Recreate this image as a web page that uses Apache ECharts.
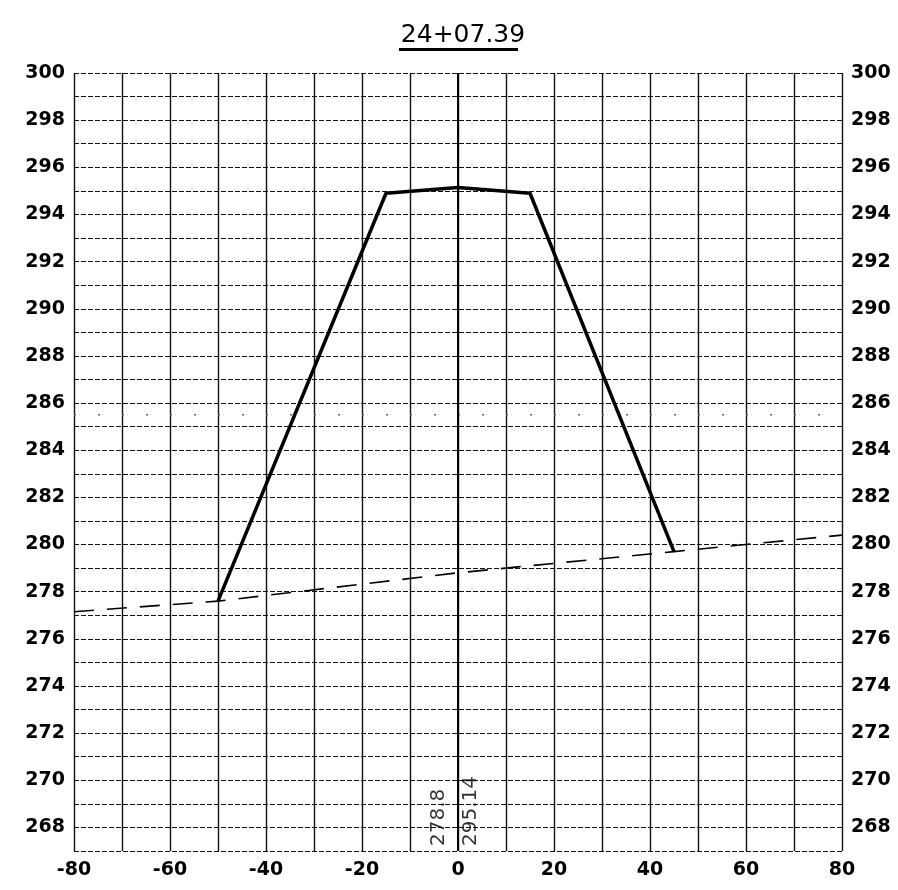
<!DOCTYPE html>
<html>
<head>
<meta charset="utf-8">
<script src="https://cdn.jsdelivr.net/npm/echarts@6/dist/echarts.min.js"></script>
<style>
html,body{margin:0;padding:0;background:#fff;}
#chart{width:898px;height:890px;}
</style>
</head>
<body>
<div id="chart"></div>
<script>
const titleText = '24+07.39';
const xMin = -80, xMax = 80;
const yMin = 267, yMax = 300;
// design cross-section (bold line)
const designX = [-50, -15, 0, 15, 45];
const designY = [277.6, 294.9, 295.14, 294.9, 279.7];
// existing ground (dashed line)
const groundX = [-80, -50, 0, 45, 80];
const groundY = [277.15, 277.6, 278.8, 279.7, 280.4];
// faint dotted level
const levelX = [-80, 80];
const levelY = [285.5, 285.5];
// centreline annotations
const centerLabels = ['278.8', '295.14'];
const centerX = [0, 0];

const pairs = (xs, ys) => xs.map((x, i) => [x, ys[i]]);

const chart = echarts.init(document.getElementById('chart'));
const labelFont = { fontFamily: 'DejaVu Sans', fontSize: 19, fontWeight: 'bold', color: '#000' };

const yAxisBase = {
  type: 'value', min: yMin, max: yMax, interval: 1,
  axisLine: { show: false }, axisTick: { show: false },
  axisLabel: Object.assign({ margin: 9, interval: 0,
    formatter: v => (v % 2 === 0 ? String(v) : '') }, labelFont)
};

chart.setOption({
  animation: false,
  backgroundColor: '#fff',
  title: {
    text: titleText, left: 458, top: 18, textAlign: 'center',
    textStyle: { fontFamily: 'DejaVu Sans', fontSize: 25, fontWeight: 'normal', color: '#000' }
  },
  graphic: [{ type: 'rect', left: 399, top: 48, shape: { width: 119, height: 3 }, style: { fill: '#000' } }],
  grid: { left: 74, right: 56, top: 73, bottom: 39 },
  xAxis: {
    type: 'value', min: xMin, max: xMax, interval: 10,
    axisLine: { show: false }, axisTick: { show: false },
    axisLabel: Object.assign({ margin: 10, formatter: v => (v % 20 === 0 ? String(v) : '') }, labelFont),
    splitLine: { show: true, lineStyle: { color: '#111', width: 1.4, type: 'solid' } }
  },
  yAxis: [
    Object.assign({}, yAxisBase, { position: 'left',
      splitLine: { show: true, lineStyle: { color: '#111', width: 1, type: [5, 2] } } }),
    Object.assign({}, yAxisBase, { position: 'right', splitLine: { show: false } })
  ],
  series: [
    {
      type: 'line', data: pairs(levelX, levelY), symbol: 'none', silent: true,
      lineStyle: { color: '#666', width: 1.5, type: [2, 22] }
    },
    {
      type: 'line', data: [[0, yMin], [0, yMax]], symbol: 'none', silent: true,
      lineStyle: { color: '#000', width: 2 }
    },
    {
      type: 'line', data: pairs(groundX, groundY), symbol: 'none',
      lineStyle: { color: '#000', width: 1.6, type: [20, 13] }
    },
    {
      type: 'line', data: pairs(designX, designY), symbol: 'none',
      lineStyle: { color: '#000', width: 3.5, join: 'round' }
    },
    {
      type: 'scatter', symbolSize: 0, silent: true,
      data: [
        { value: [centerX[0], yMin], label: { formatter: centerLabels[0], verticalAlign: 'bottom', offset: [5, -9] } },
        { value: [centerX[1], yMin], label: { formatter: centerLabels[1], verticalAlign: 'top', offset: [5, 3] } }
      ],
      label: {
        show: true, position: 'inside', rotate: 90, align: 'left',
        fontFamily: 'DejaVu Sans', fontSize: 20, color: '#000', textBorderWidth: 0
      }
    }
  ]
});
</script>
</body>
</html>
